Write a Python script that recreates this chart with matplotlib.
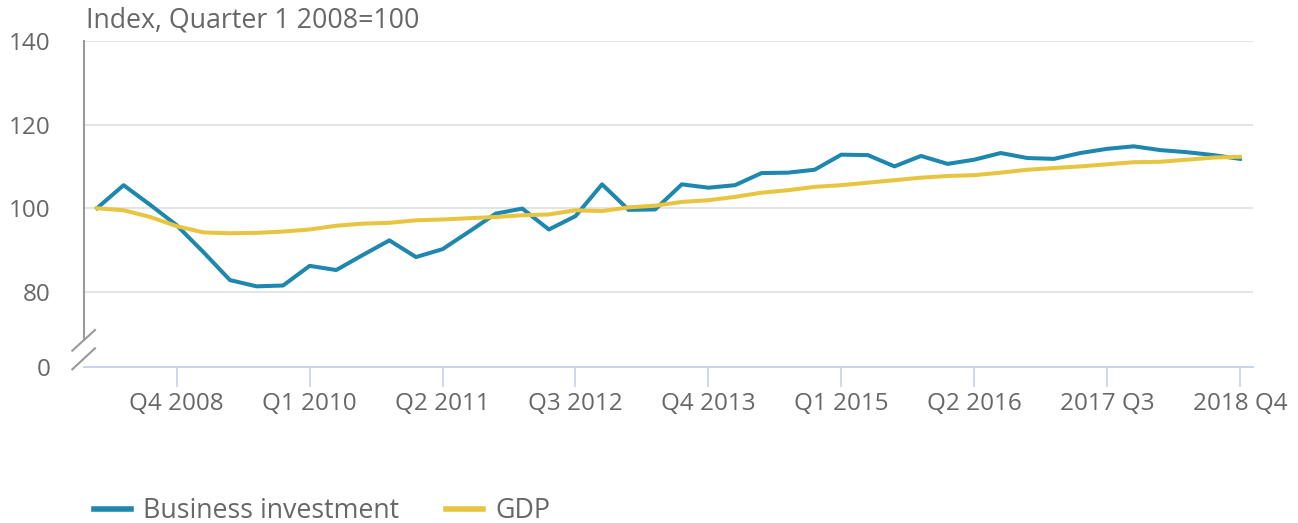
import matplotlib
matplotlib.use("Agg")
import matplotlib.pyplot as plt

plt.rcParams["font.family"] = ["Open Sans", "DejaVu Sans"]

# Quarterly index, Q1 2008 = 100 (Q1 2008 .. Q4 2018)
business_investment = [
    100.0, 105.5, 100.8, 95.9, 89.5, 82.8, 81.3, 81.5, 86.2, 85.2,
    88.8, 92.3, 88.3, 90.2, 94.4, 98.7, 99.9, 94.9, 98.1, 105.7,
    99.6, 99.7, 105.7, 104.9, 105.5, 108.4, 108.5, 109.2, 112.8, 112.7,
    110.0, 112.5, 110.6, 111.6, 113.2, 112.0, 111.8, 113.2, 114.2, 114.8,
    113.9, 113.4, 112.7, 111.8,
]
gdp = [
    100.0, 99.5, 97.9, 95.7, 94.2, 94.0, 94.1, 94.4, 94.9, 95.8,
    96.3, 96.5, 97.1, 97.3, 97.6, 97.9, 98.3, 98.5, 99.5, 99.3,
    100.2, 100.6, 101.5, 101.9, 102.7, 103.7, 104.3, 105.1, 105.5, 106.1,
    106.7, 107.3, 107.7, 107.9, 108.5, 109.2, 109.6, 110.0, 110.5, 111.0,
    111.1, 111.6, 112.1, 112.3,
]
tick_pos = [3, 8, 13, 18, 23, 28, 33, 38, 43]
tick_labels = ["Q4 2008", "Q1 2010", "Q2 2011", "Q3 2012", "Q4 2013",
               "Q1 2015", "Q2 2016", "2017 Q3", "2018 Q4"]
y_ticks = [62, 80, 100, 120, 140]
y_labels = ["0", "80", "100", "120", "140"]

text_col = "#676767"
blue = "#1d87ad"
yellow = "#e8c540"

fig = plt.figure(figsize=(12.98, 5.23), dpi=100)
ax = fig.add_axes([84 / 1298, 1 - 367 / 523, 1169 / 1298, 326 / 523])

x = list(range(len(gdp)))
l1, = ax.plot(x, business_investment, color=blue, lw=2.9,
              label="Business investment", zorder=3)
l2, = ax.plot(x, gdp, color=yellow, lw=2.9, label="GDP", zorder=4)

ax.set_xlim(-0.49, 43.49)
ax.set_ylim(62, 140)

for v in [80, 100, 120, 140]:
    ax.axhline(v, color="#e4e4e4", lw=1.4, zorder=1)

ax.set_yticks(y_ticks)
ax.set_yticklabels(y_labels)
ax.set_xticks(tick_pos)
ax.set_xticklabels(tick_labels)
ax.tick_params(axis="y", length=0, pad=24, labelsize=17.5, labelcolor=text_col)
ax.tick_params(axis="x", length=14.5, width=1.3, color="#c9d5ea", pad=3.5,
               labelsize=17.5, labelcolor=text_col)

for s in ["top", "right"]:
    ax.spines[s].set_visible(False)
ax.spines["bottom"].set_color("#c9d5ea")
ax.spines["bottom"].set_linewidth(1.5)
ax.spines["left"].set_color("#9a9a9a")
ax.spines["left"].set_linewidth(1.5)
ax.spines["left"].set_bounds(68.5, 140)

# axis break marks
for y0, y1 in [(0.050, 0.1135), (-0.0071, 0.0574)]:
    ax.plot([-0.010, 0.0094], [y0, y1], transform=ax.transAxes, color="#9a9a9a",
            lw=1.5, clip_on=False)

fig.text(86 / 1298, 1 - 20 / 523, "Index, Quarter 1 2008=100", fontsize=19.3,
         color=text_col, ha="left", va="center")

leg = fig.legend(handles=[l1, l2], loc="center left", bbox_to_anchor=(0.0644, 1 - 511 / 523),
                 ncol=2, frameon=False, fontsize=19.3, handlelength=1.38,
                 handletextpad=0.45, columnspacing=1.75, borderaxespad=0)
for t in leg.get_texts():
    t.set_color(text_col)
for h in leg.legend_handles:
    h.set_linewidth(4)

fig.savefig("out.png", dpi=100)
